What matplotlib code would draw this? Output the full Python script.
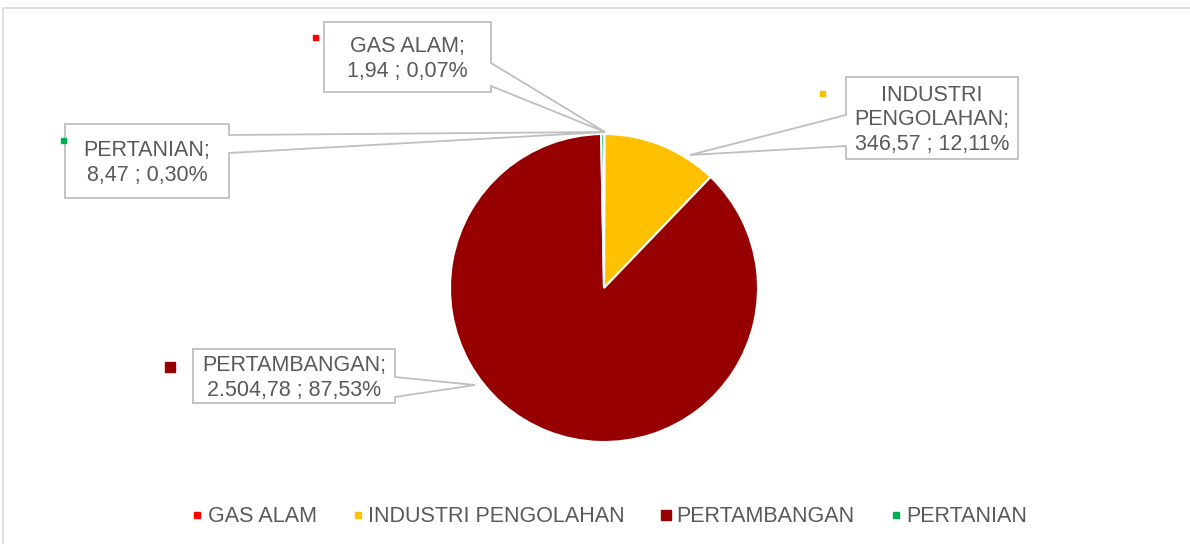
import matplotlib.pyplot as plt
from matplotlib.patches import Polygon
from matplotlib.lines import Line2D

plt.rcParams['font.family'] = ['Liberation Sans', 'DejaVu Sans']

sectors = ["GAS ALAM", "INDUSTRI PENGOLAHAN", "PERTAMBANGAN", "PERTANIAN"]
values = [1.94, 346.57, 2504.78, 8.47]
value_text = ["1,94", "346,57", "2.504,78", "8,47"]
pct_text = ["0,07%", "12,11%", "87,53%", "0,30%"]
label_lines = ["GAS ALAM;", "INDUSTRI\nPENGOLAHAN;", "PERTAMBANGAN;", "PERTANIAN;"]
colors = ["#FF0000", "#FFC000", "#960000", "#00B050"]

W, H = 1190, 544
fig = plt.figure(figsize=(W / 100, H / 100), dpi=100)

# overlay axes in pixel coords (y down)
ov = fig.add_axes([0, 0, 1, 1], zorder=3)
ov.set_xlim(0, W)
ov.set_ylim(H, 0)
ov.axis("off")
ov.patch.set_alpha(0)

# chart border
ov.plot([3, 3, W + 5], [H + 5, 8, 8], color="#d9d9d9", lw=1.2, clip_on=False)

# pie
cx, cy, r = 604, 288, 154
pie_ax = fig.add_axes([(cx - r) / W, (H - cy - r) / H, 2 * r / W, 2 * r / H], zorder=1)
pie_ax.pie(values, colors=colors, startangle=90, counterclock=False, radius=1,
           wedgeprops=dict(edgecolor="white", linewidth=1.5))
pie_ax.set_xlim(-1, 1)
pie_ax.set_ylim(-1, 1)
pie_ax.set_aspect("equal")

# label boxes: (x0, y0, x1, y1), side, attach y's, tip, marker pos, marker size
boxes = [
    ((324, 22, 491, 92), "right", (63, 86), (605, 132), (315, 37), 5),
    ((846, 77, 1018, 159), "left", (115, 146), (690, 155), (822, 93), 5),
    ((193, 349, 395, 403), "right", (377, 397), (475, 385), (170, 367), 10),
    ((65, 124, 229, 198), "right", (135, 153), (605, 132), (63, 140), 5),
]


def callout(box, side, att, tip):
    x0, y0, x1, y1 = box
    a1, a2 = att
    if side == "right":
        return [(x0, y0), (x1, y0), (x1, a1), tip, (x1, a2), (x1, y1), (x0, y1)]
    return [(x0, y0), (x1, y0), (x1, y1), (x0, y1), (x0, a2), tip, (x0, a1)]


for i, (box, side, att, tip, mpos, msz) in enumerate(boxes):
    poly = Polygon(callout(box, side, att, tip), closed=True, facecolor="white",
                   edgecolor="#bfbfbf", lw=1.3, zorder=4)
    ov.add_patch(poly)
    x0, y0, x1, y1 = box
    txt = f"{label_lines[i]}\n{value_text[i]} ; {pct_text[i]}"
    ov.text((x0 + x1) / 2, (y0 + y1) / 2 + 2, txt, ha="center", va="center",
            fontsize=15.5, color="#595959", linespacing=1.2, zorder=5)
    ov.add_patch(plt.Rectangle((mpos[0] - msz / 2, mpos[1] - msz / 2), msz, msz,
                               color=colors[i], zorder=5))

# legend
leg_sizes = [4, 4, 7.5, 4]
handles = [Line2D([], [], marker="s", ls="", color=c, markersize=s)
           for c, s in zip(colors, leg_sizes)]
fig.legend(handles, sectors, loc="center", bbox_to_anchor=(610 / W, 1 - 517 / H),
           ncol=4, frameon=False, fontsize=15.5, handlelength=0.45, handletextpad=0.25,
           columnspacing=1.7, labelcolor="#595959")

fig.savefig("out.png", dpi=100)
